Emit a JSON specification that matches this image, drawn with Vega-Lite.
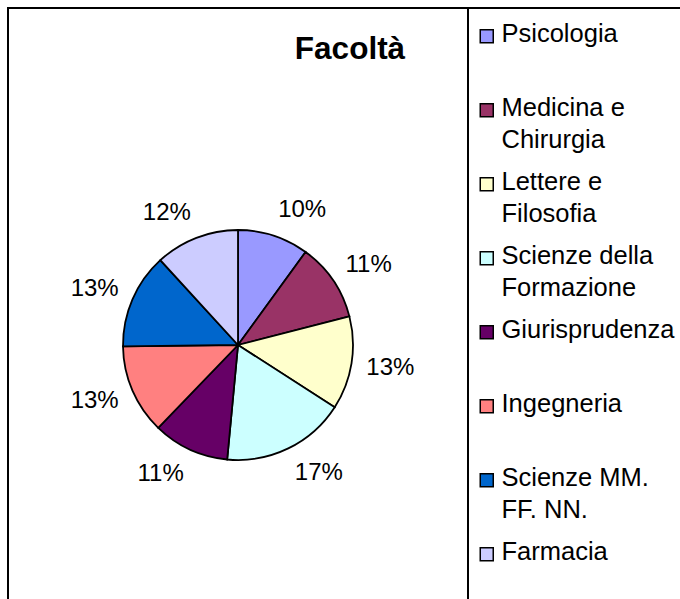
{
  "$schema": "https://vega.github.io/schema/vega-lite/v6.json",
  "width": 460,
  "height": 674,
  "autosize": "none",
  "padding": {"left": 8, "top": 8, "right": 212, "bottom": 0},
  "background": "white",
  "view": {"stroke": "black", "strokeWidth": 2},
  "title": {
    "text": "Facoltà",
    "font": "Liberation Sans",
    "fontSize": 31.5,
    "fontWeight": "bold",
    "color": "black",
    "anchor": "middle",
    "frame": "group",
    "dx": 112,
    "dy": 31,
    "offset": -52,
    "baseline": "alphabetic"
  },
  "data": {
    "values": [
      {"n": 1, "facolta": "Psicologia", "share": 0.100},
      {"n": 2, "facolta": "Medicina e Chirurgia", "share": 0.110},
      {"n": 3, "facolta": "Lettere e Filosofia", "share": 0.131},
      {"n": 4, "facolta": "Scienze della Formazione", "share": 0.174},
      {"n": 5, "facolta": "Giurisprudenza", "share": 0.107},
      {"n": 6, "facolta": "Ingegneria", "share": 0.126},
      {"n": 7, "facolta": "Scienze MM. FF. NN.", "share": 0.134},
      {"n": 8, "facolta": "Farmacia", "share": 0.118}
    ]
  },
  "encoding": {
    "theta": {"field": "share", "type": "quantitative", "stack": true},
    "order": {"field": "n", "type": "quantitative"}
  },
  "layer": [
    {
      "mark": {"type": "arc", "outerRadius": 115, "stroke": "black", "strokeWidth": 1.8},
      "encoding": {
        "color": {
          "field": "facolta",
          "type": "nominal",
          "scale": {
            "domain": ["Psicologia", "Medicina e Chirurgia", "Lettere e Filosofia", "Scienze della Formazione", "Giurisprudenza", "Ingegneria", "Scienze MM. FF. NN.", "Farmacia"],
            "range": ["#9999FF", "#993366", "#FFFFCC", "#CCFFFF", "#660066", "#FF8080", "#0066CC", "#CCCCFF"]
          },
          "legend": {
            "title": null,
            "orient": "none",
            "legendX": 460,
            "legendY": 0,
            "direction": "vertical",
            "labelExpr": "datum.label == 'Medicina e Chirurgia' ? ['Medicina e', 'Chirurgia'] : datum.label == 'Lettere e Filosofia' ? ['Lettere e', 'Filosofia'] : datum.label == 'Scienze della Formazione' ? ['Scienze della', 'Formazione'] : datum.label == 'Scienze MM. FF. NN.' ? ['Scienze MM.', 'FF. NN.'] : [datum.label, '']"
          }
        }
      }
    },
    {
      "mark": {
        "type": "text",
        "radius": 130,
        "font": "Liberation Sans",
        "fontSize": 24,
        "color": "black",
        "align": {"expr": "sin(scale('theta', 0.5 * datum.share_start + 0.5 * datum.share_end)) >= 0 ? 'left' : 'right'"},
        "baseline": "middle",
        "dy": {"expr": "-12 * cos(scale('theta', 0.5 * datum.share_start + 0.5 * datum.share_end))"}
      },
      "encoding": {
        "text": {"field": "share", "type": "quantitative", "format": ".0%"}
      }
    }
  ],
  "config": {
    "view": {"stroke": "black", "strokeWidth": 2},
    "style": {"guide-label": {"lineHeight": 32}, "cell": {"stroke": "black", "strokeWidth": 2}},
    "legend": {
      "strokeColor": "black",
      "strokeWidth": 2,
      "padding": 13,
      "symbolType": "M-1,-0.615 L1,-0.615 L1,1.385 L-1,1.385 Z",
      "symbolSize": 169,
      "symbolStrokeColor": "black",
      "symbolStrokeWidth": 1.5,
      "symbolOffset": -7,
      "labelOffset": 2,
      "labelFont": "Liberation Sans",
      "labelFontSize": 25.5,
      "labelColor": "black",
      "labelBaseline": "middle",
      "labelLimit": 300,
      "rowPadding": 15,
      "gridAlign": "all"
    }
  }
}
